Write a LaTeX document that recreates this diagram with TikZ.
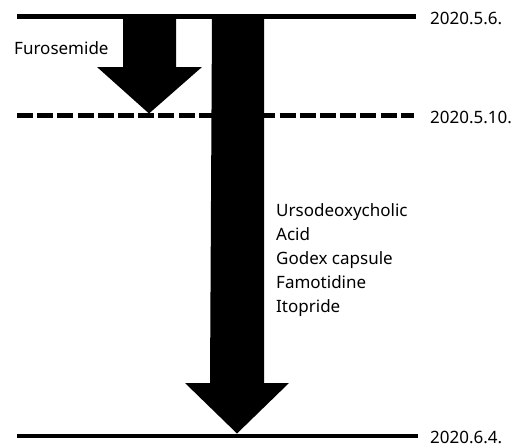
\documentclass[tikz,border=0pt]{standalone}
\usepackage{fontspec}
\setmainfont{Noto Sans}
\begin{document}
\begin{tikzpicture}[x=1pt,y=-1pt,
  lbl/.style={inner sep=0pt,anchor=west,font=\fontsize{17}{24}\selectfont},
  tline/.style={line width=4.5pt},
  bigarrow/.style={fill=black,draw=none}]
\useasboundingbox (0,0) rectangle (525,447);
% timeline levels
\coordinate (t1l) at (17,16.5);
\coordinate (t1r) at (416,16.5);
\coordinate (t2l) at (17,115.7);
\coordinate (t2r) at (414,115.7);
\coordinate (t3l) at (17,436);
\coordinate (t3r) at (418,436);
\draw[tline] (t1l) -- (t1r);
\draw[line width=5pt,dash pattern=on 16pt off 4.2pt] (t2l) -- (t2r);
\draw[tline] (t3l) -- (t3r);
% small arrow (Furosemide)
\fill[bigarrow] (123,18) -- (176,18) -- (176,67) -- (202,67) -- (149,113.5)
  -- (97,67) -- (123,67) -- cycle;
% large arrow
\fill[bigarrow] (212,18) -- (264,18) -- (264,383) -- (289,383) -- (237,433.5)
  -- (185,383) -- (210,383) -- cycle;
% labels
\node[lbl] (furo) at (14,48) {Furosemide};
\node[lbl] (d1) at (430,18) {2020.5.6.};
\node[lbl] (d2) at (430,117) {2020.5.10.};
\node[lbl] (d3) at (430,437) {2020.6.4.};
\node[lbl,anchor=north west,align=left] (drugs) at (276,203)
  {Ursodeoxycholic\\Acid\\Godex capsule\\Famotidine\\Itopride};
\end{tikzpicture}
\end{document}
